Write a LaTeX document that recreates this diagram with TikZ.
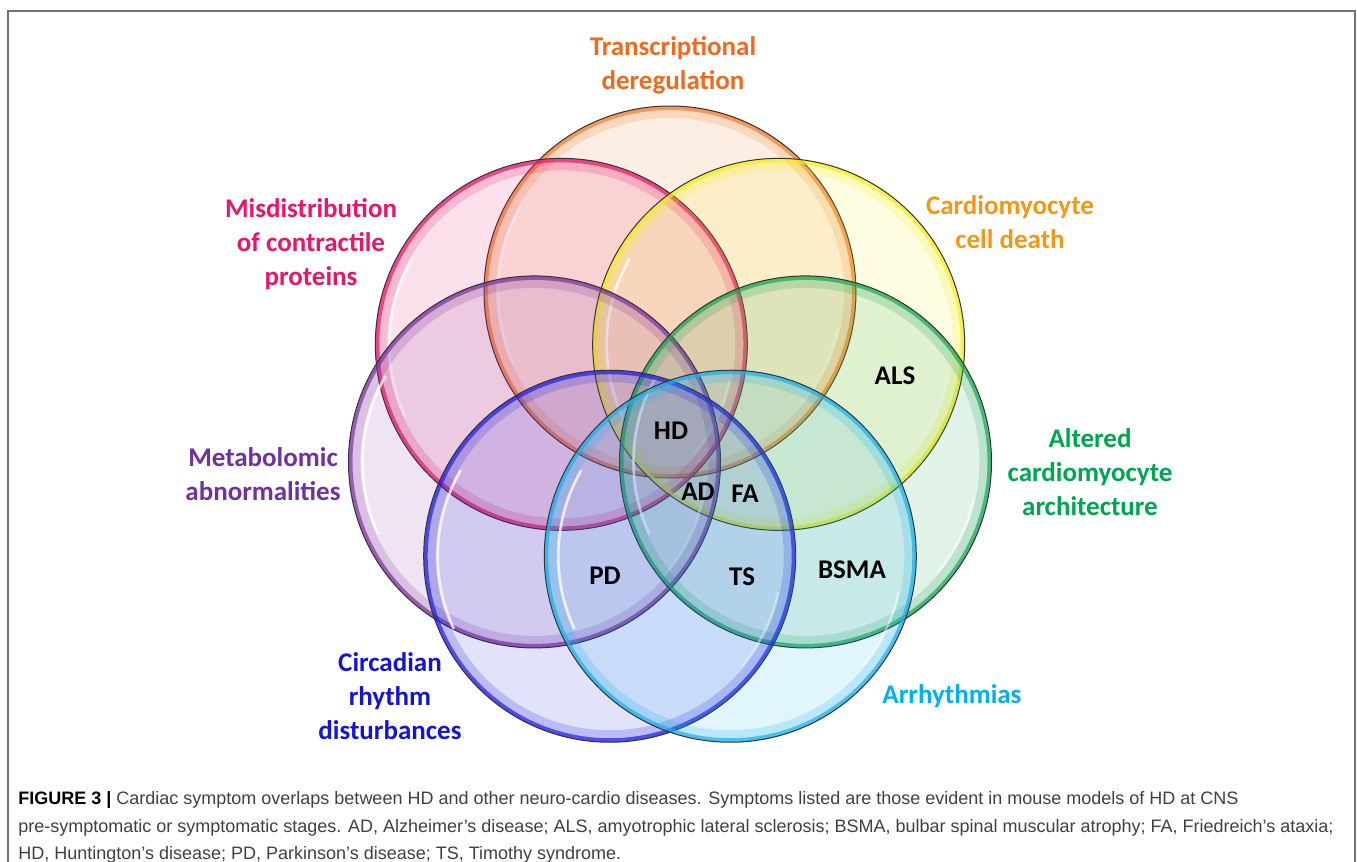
\documentclass[tikz,border=0pt]{standalone}
\usepackage{fontspec}
\setmainfont{Liberation Sans}
\newfontfamily\calibri{Carlito}
\usetikzlibrary{calc}

\definecolor{cnaranja}{RGB}{240,125,45}
\definecolor{crosa}{RGB}{232,22,105}
\definecolor{camarillo}{RGB}{245,238,25}
\definecolor{cmorado}{RGB}{125,50,155}
\definecolor{cverde}{RGB}{25,165,85}
\definecolor{cazul}{RGB}{30,30,225}
\definecolor{ccian}{RGB}{25,175,235}
\definecolor{tnaranja}{RGB}{240,105,30}
\definecolor{tambar}{RGB}{245,150,20}
\definecolor{tmorado}{RGB}{112,48,160}
\definecolor{tverde}{RGB}{0,165,80}
\definecolor{tazul}{RGB}{20,20,215}
\definecolor{tcian}{RGB}{0,176,240}
\definecolor{tleyenda}{RGB}{64,64,64}

% #1 name, #2 angle round the centre, #3 colour
\newcommand{\burbuja}[3]{%
  \coordinate (#1) at ($(670,431)+(#2:139)$);
  \fill[#3, fill opacity=.13] (#1) circle[radius=93pt];
  \draw[#3, line width=6pt, opacity=.2] (#1) circle[radius=90pt];
  \draw[#3, line width=2pt, opacity=.7] (#1) circle[radius=92pt];
  \draw[white, line width=1.3pt, opacity=.75] (#1) ++(150:86pt) arc[start angle=150, end angle=205, radius=86pt];
  \draw[white, line width=1pt, opacity=.5] (#1) ++(-40:86pt) arc[start angle=-40, end angle=-12, radius=86pt];
  \draw[black!80, line width=.5pt] (#1) circle[radius=93pt];}

\begin{document}
\begin{tikzpicture}[x=0.5pt, y=-0.5pt,
    etiq/.style={font=\calibri\bfseries\fontsize{13.5}{17}\selectfont, align=center, inner sep=0pt},
    enf/.style={font=\calibri\bfseries\fontsize{13.5}{17}\selectfont, inner sep=0pt},
    leyenda/.style={font=\fontsize{9}{13.8}\selectfont, text=tleyenda, align=left, inner sep=0pt}]
  \useasboundingbox (0,0) rectangle (1357,862);
  \draw[black!55, line width=1pt] (8,862) -- (8,11) -- (1355,11) -- (1355,862);

  \foreach \n/\ang/\col in {trans/270/cnaranja, misd/218.57/crosa, amar/321.43/camarillo,
                            meta/167.14/cmorado, arq/12.86/cverde, circ/115.71/cazul, arr/64.29/ccian}
    {\burbuja{\n}{\ang}{\col}}

  \foreach \n/\px/\py/\col/\txt in {ltrans/673/65/tnaranja/{Transcriptional\\deregulation},
      lmisd/311/244/crosa/{Misdistribution\\of contractile\\proteins},
      lcard/1010/222/tambar/{Cardiomyocyte\\cell death},
      lmeta/263/474/tmorado/{Metabolomic\\abnormalities},
      larq/1090/472/tverde/{Altered\\cardiomyocyte\\architecture},
      lcirc/390/696/tazul/{Circadian\\rhythm\\disturbances},
      larr/952/696/tcian/{Arrhythmias}}
    {\node[etiq, text=\col] (\n) at (\px,\py) {\txt};}

  \foreach \n/\px/\py/\txt in {hd/671/431/HD, ad/698/492/AD, fa/745/494/FA, als/895/376/ALS,
                               pd/605/576/PD, ts/742/577/TS, bsma/852/570/BSMA}
    \node[enf] (\n) at (\px,\py) {\txt};

  \node[leyenda, anchor=north west] (cap) at (18,791)
    {{\color{black}\bfseries FIGURE 3 |} Cardiac symptom overlaps between HD and other neuro-cardio diseases. Symptoms listed are those evident in mouse models of HD at CNS\\
     pre-symptomatic or symptomatic stages. AD, Alzheimer's disease; ALS, amyotrophic lateral sclerosis; BSMA, bulbar spinal muscular atrophy; FA, Friedreich's ataxia;\\
     HD, Huntington's disease; PD, Parkinson's disease; TS, Timothy syndrome.};
\end{tikzpicture}
\end{document}
